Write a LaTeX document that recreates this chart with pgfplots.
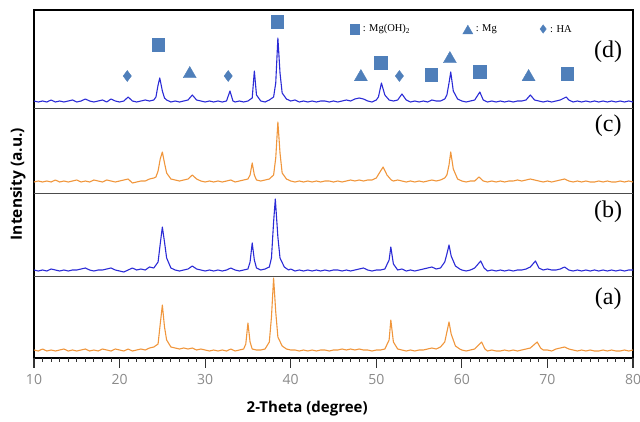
\documentclass[border=0pt]{standalone}
\usepackage{fontspec}
\setmainfont{Liberation Serif}
\newfontfamily\osans{Open Sans}
\usepackage{pgfplots}
\pgfplotsset{compat=1.18}
\definecolor{XBlue}{HTML}{2B2BD6}
\definecolor{XOrange}{HTML}{F0963C}
\definecolor{XMark}{HTML}{4F7FBA}
\definecolor{XTick}{HTML}{8A8A8A}
\tikzset{
  spec/.style={line width=1.1pt, line join=round},
  panel/.style={font=\fontsize{24}{24}\selectfont, anchor=center},
  keytext/.style={font=\fontsize{10.5}{10.5}\selectfont, anchor=west, inner sep=0pt}
}
\begin{document}
\begin{tikzpicture}
\begin{axis}[
  width=599pt, height=348pt, scale only axis,
  xmin=10, xmax=80, ymin=0, ymax=348,
  clip=false, unbounded coords=jump,
  xtick={10,20,...,80},
  ytick=\empty, xtick pos=left,
  major tick length=0pt,
  axis line style={line width=1.5pt},
  /pgf/number format/assume math mode=true,
  xticklabel style={font=\osans\fontsize{14}{14}\selectfont, text=XTick, yshift=-13pt},
  xlabel={2-Theta (degree)},
  xlabel style={font=\osans\bfseries\fontsize{15}{15}\selectfont, at={(axis description cs:0.456,-0.144)}, anchor=center},
  ylabel={Intensity (a.u.)},
  ylabel style={font=\osans\bfseries\fontsize{15.5}{15.5}\selectfont, at={(axis description cs:-0.027,0.5)}, anchor=center, rotate=0},
]
% tick marks below the frame
\addplot[black!80, line width=1.1pt] coordinates {
(10,0) (10,-10) (10,nan) (20,0) (20,-10) (20,nan) (30,0) (30,-10) (30,nan) (40,0) (40,-10) (40,nan)
(50,0) (50,-10) (50,nan) (60,0) (60,-10) (60,nan) (70,0) (70,-10) (70,nan) (80,0) (80,-10)
};
\addplot[black!80, line width=0.9pt] coordinates {
(11,0) (11,-4) (11,nan) (12,0) (12,-4) (12,nan) (13,0) (13,-4) (13,nan) (14,0) (14,-4) (14,nan) (15,0) (15,-4) (15,nan) (16,0) (16,-4) (16,nan) (17,0) (17,-4) (17,nan) (18,0) (18,-4) (18,nan) (19,0) (19,-4) (19,nan)
(21,0) (21,-4) (21,nan) (22,0) (22,-4) (22,nan) (23,0) (23,-4) (23,nan) (24,0) (24,-4) (24,nan) (25,0) (25,-4) (25,nan) (26,0) (26,-4) (26,nan) (27,0) (27,-4) (27,nan) (28,0) (28,-4) (28,nan) (29,0) (29,-4) (29,nan)
(31,0) (31,-4) (31,nan) (32,0) (32,-4) (32,nan) (33,0) (33,-4) (33,nan) (34,0) (34,-4) (34,nan) (35,0) (35,-4) (35,nan) (36,0) (36,-4) (36,nan) (37,0) (37,-4) (37,nan) (38,0) (38,-4) (38,nan) (39,0) (39,-4) (39,nan)
(41,0) (41,-4) (41,nan) (42,0) (42,-4) (42,nan) (43,0) (43,-4) (43,nan) (44,0) (44,-4) (44,nan) (45,0) (45,-4) (45,nan) (46,0) (46,-4) (46,nan) (47,0) (47,-4) (47,nan) (48,0) (48,-4) (48,nan) (49,0) (49,-4) (49,nan)
(51,0) (51,-4) (51,nan) (52,0) (52,-4) (52,nan) (53,0) (53,-4) (53,nan) (54,0) (54,-4) (54,nan) (55,0) (55,-4) (55,nan) (56,0) (56,-4) (56,nan) (57,0) (57,-4) (57,nan) (58,0) (58,-4) (58,nan) (59,0) (59,-4) (59,nan)
(61,0) (61,-4) (61,nan) (62,0) (62,-4) (62,nan) (63,0) (63,-4) (63,nan) (64,0) (64,-4) (64,nan) (65,0) (65,-4) (65,nan) (66,0) (66,-4) (66,nan) (67,0) (67,-4) (67,nan) (68,0) (68,-4) (68,nan) (69,0) (69,-4) (69,nan)
(71,0) (71,-4) (71,nan) (72,0) (72,-4) (72,nan) (73,0) (73,-4) (73,nan) (74,0) (74,-4) (74,nan) (75,0) (75,-4) (75,nan) (76,0) (76,-4) (76,nan) (77,0) (77,-4) (77,nan) (78,0) (78,-4) (78,nan) (79,0) (79,-4)
};

% panel separators
\addplot[black!70, line width=0.8pt] coordinates {(10,82) (80,82)};
\addplot[black!70, line width=0.8pt] coordinates {(10,165) (80,165)};
\addplot[black!70, line width=0.8pt] coordinates {(10,250) (80,250)};

% (a)
\addplot[spec, XOrange, y filter/.expression={y+6}] coordinates {
(10,2) (10.5,1) (11,3) (11.5,1) (12,2) (12.5,1) (13,2) (13.5,3) (14,1) (14.5,2) (15,1) (15.5,2) (16,3) (16.5,1) (17,2) (17.5,1) (18,3) (18.5,2) (19,1) (19.5,3) (20,2) (20.5,1) (21,3) (21.5,1) (22,2) (22.5,3) (23,2) (23.5,4) (24,5) (24.5,8) (24.75,28) (25,47) (25.25,25) (25.5,12) (26,5) (26.5,4) (27,3) (27.5,4) (28,3) (28.5,4) (29,2) (29.5,3) (30,2) (30.5,1) (31,2) (31.5,1) (32,2) (32.5,1) (33,3) (33.5,1) (34,2) (34.5,3) (34.75,8) (35,29) (35.25,10) (35.5,3) (36,2) (36.5,2) (37,3) (37.5,10) (37.75,35) (38,74) (38.25,40) (38.5,15) (39,6) (39.5,3) (40,2) (40.5,2) (41,1) (41.5,2) (42,1) (42.5,2) (43,1) (43.5,2) (44,2) (44.5,1) (45,2) (45.5,2) (46,3) (46.5,2) (47,3) (47.5,2) (48,3) (48.5,2) (49,2) (49.5,1) (50,2) (50.5,2) (51,3) (51.5,12) (51.7,32) (52,10) (52.5,3) (53,2) (53.5,1) (54,2) (54.5,1) (55,2) (55.5,2) (56,3) (56.5,4) (57,3) (57.5,5) (58,10) (58.25,20) (58.5,30) (58.75,18) (59.25,6) (59.75,3) (60,2) (60.5,1) (61,2) (61.5,3) (62.3,10) (62.7,3) (63,1) (63.5,2) (64,1) (64.5,1) (65,2) (65.5,1) (66,2) (66.5,1) (67,2) (67.5,3) (68,4) (68.8,10) (69.2,4) (69.5,2) (70,2) (70.5,1) (71,3) (71.5,4) (72,5) (72.5,3) (73,2) (73.5,1) (74,2) (74.5,1) (75,2) (75.5,1) (76,1) (76.5,2) (77,1) (77.5,2) (78,1) (78.5,1) (79,2) (79.5,1) (80,2)
};

% (b)
\addplot[spec, XBlue, y filter/.expression={y+86}] coordinates {
(10,2) (10.5,1) (11,2) (11.5,1) (12,3) (12.5,2) (13,1) (13.5,2) (14,1) (14.5,2) (15,2) (15.5,3) (16,4) (16.5,2) (17,1) (17.5,2) (18,2) (18.5,3) (19,4) (19.5,2) (20,1) (20.5,0) (21,2) (21.5,4) (22,2) (22.5,3) (23,2) (23.5,5) (24,4) (24.5,10) (24.75,28) (25,45) (25.25,30) (25.5,14) (26,4) (26.5,2) (27,1) (27.5,2) (28,3) (28.5,6) (29,3) (29.5,2) (30,1) (30.5,2) (31,1) (31.5,2) (32,1) (32.5,2) (33,4) (33.5,2) (34,1) (34.5,2) (35,3) (35.25,10) (35.5,29) (35.75,12) (36,4) (36.5,2) (37,3) (37.5,5) (37.75,14) (38,50) (38.2,73) (38.5,35) (38.75,14) (39.25,5) (39.75,2) (40,3) (40.5,1) (41,2) (41.5,1) (42,2) (42.5,1) (43,2) (43.5,1) (44,2) (44.5,1) (45,2) (45.5,2) (46,1) (46.5,2) (47,1) (47.5,2) (48,3) (48.5,4) (49,2) (49.5,1) (50,2) (50.5,2) (51,3) (51.5,12) (51.7,25) (52,8) (52.5,2) (53,3) (53.5,1) (54,2) (54.5,1) (55,2) (55.5,3) (56,4) (56.5,5) (57,3) (57.5,4) (58,10) (58.25,18) (58.5,27) (58.75,16) (59.25,6) (59.75,3) (60,2) (60.5,1) (61,2) (61.5,4) (62.2,11) (62.6,4) (63,1) (63.5,2) (64,1) (64.5,2) (65,1) (65.5,2) (66,1) (66.5,2) (67,2) (67.5,3) (68,5) (68.6,11) (69,4) (69.5,2) (70,3) (70.5,2) (71,2) (71.5,3) (72,5) (72.5,2) (73,1) (73.5,2) (74,1) (74.5,2) (75,1) (75.5,2) (76,1) (76.5,2) (77,1) (77.5,2) (78,1) (78.5,2) (79,1) (79.5,2) (80,2)
};

% (c)
\addplot[spec, XOrange, y filter/.expression={y+175}] coordinates {
(10,1) (10.5,2) (11,1) (11.5,2) (12,1) (12.5,3) (13,1) (13.5,2) (14,1) (14.5,2) (15,3) (15.5,1) (16,2) (16.5,1) (17,3) (17.5,2) (18,1) (18.5,3) (19,2) (19.5,1) (20,2) (20.5,3) (21,4) (21.5,0) (22,1) (22.5,2) (23,2) (23.5,4) (24,5) (24.25,6) (24.5,12) (24.75,24) (25,31) (25.25,20) (25.5,10) (26,4) (26.5,3) (27,2) (27.5,3) (28,4) (28.5,8) (29,4) (29.5,2) (30,1) (30.5,2) (31,1) (31.5,2) (32,1) (32.5,2) (33,3) (33.5,1) (34,2) (34.5,3) (35,4) (35.25,8) (35.5,20) (35.75,8) (36,3) (36.5,2) (37,3) (37.5,4) (38,8) (38.25,25) (38.5,61) (38.75,30) (39,10) (39.5,4) (40,2) (40.5,1) (41,2) (41.5,1) (42,2) (42.5,1) (43,2) (43.5,1) (44,2) (44.5,2) (45,1) (45.5,2) (46,1) (46.5,2) (47,3) (47.5,2) (48,3) (48.5,2) (49,3) (49.5,3) (50,5) (50.5,12) (50.8,16) (51.25,8) (51.75,3) (52,2) (52.5,3) (53,2) (53.5,1) (54,2) (54.5,1) (55,2) (55.5,1) (56,2) (56.5,3) (57,2) (57.5,3) (58,5) (58.25,8) (58.5,18) (58.7,31) (59,14) (59.5,4) (60,2) (60.5,1) (61,2) (61.5,2) (62,6) (62.5,2) (63,1) (63.5,2) (64,1) (64.5,2) (65,1) (65.5,2) (66,2) (66.5,3) (67,2) (67.5,3) (68,4) (68.5,3) (69,2) (69.5,1) (70,2) (70.5,1) (71,2) (71.5,3) (72,4) (72.5,2) (73,1) (73.5,2) (74,1) (74.5,2) (75,1) (75.5,1) (76,2) (76.5,1) (77,2) (77.5,1) (78,1) (78.5,2) (79,1) (79.5,2) (80,1)
};

% (d)
\addplot[spec, XBlue, y filter/.expression={y+255}] coordinates {
(10,2) (10.5,1) (11,2) (11.5,1) (12,3) (12.5,1) (13,2) (13.5,1) (14,2) (14.5,3) (15,1) (15.5,2) (16,4) (16.5,2) (17,1) (17.5,2) (18,3) (18.5,1) (19,4) (19.5,2) (20,1) (20.5,2) (21,6) (21.5,2) (22,1) (22.5,2) (23,3) (23.5,2) (24,3) (24.25,6) (24.5,18) (24.7,25) (25,12) (25.25,5) (25.5,3) (26,1) (26.5,2) (27,1) (27.5,2) (28,3) (28.5,8) (29,3) (29.5,2) (30,1) (30.5,2) (31,1) (31.5,2) (32,1) (32.5,2) (32.9,12) (33.25,2) (33.5,1) (34,2) (34.5,1) (35,2) (35.5,5) (35.75,32) (36,8) (36.5,2) (37,1) (37.5,3) (38,6) (38.25,20) (38.5,65) (38.75,30) (39,10) (39.5,4) (40,2) (40.5,3) (41,1) (41.5,2) (42,1) (42.5,2) (43,1) (43.5,2) (44,2) (44.5,1) (45,2) (45.5,1) (46,2) (46.5,3) (47,2) (47.5,4) (48,5) (48.5,4) (49,2) (49.5,1) (50,3) (50.25,6) (50.6,20) (51,8) (51.5,3) (52,2) (52.5,3) (53,9) (53.5,3) (54,1) (54.5,2) (55,1) (55.5,2) (56,1) (56.5,3) (57,2) (57.5,2) (58,4) (58.25,8) (58.5,20) (58.7,31) (59,12) (59.5,4) (60,2) (60.5,1) (61,2) (61.5,3) (62.1,11) (62.5,3) (63,1) (63.5,2) (64,1) (64.5,2) (65,1) (65.5,2) (66,1) (66.5,2) (67,2) (67.5,3) (68,8) (68.5,3) (69,2) (69.5,1) (70,2) (70.5,1) (71,2) (71.5,3) (72.2,6) (72.5,3) (73,1) (73.5,2) (74,1) (74.5,2) (75,1) (75.5,2) (76,1) (76.5,2) (77,1) (77.5,2) (78,1) (78.5,2) (79,1) (79.5,2) (80,1)
};

% phase markers above (d)
\addplot[only marks, mark=square*, mark size=6.3pt, XMark] coordinates {
(24.5,313) (38.4,336) (50.5,295) (56.4,283) (62.1,286) (72.3,284)
};
\addplot[only marks, mark=triangle*, mark size=7.5pt, XMark] coordinates {
(28.2,284) (48.2,281) (58.6,299) (67.8,281)
};
\addplot[only marks, mark=diamond*, mark size=5.5pt, XMark] coordinates {
(20.9,282) (32.7,282) (52.7,282)
};
% key
\addplot[only marks, mark=square*, mark size=4.8pt, XMark] coordinates {(47.5,329)};
\addplot[only marks, mark=triangle*, mark size=5.8pt, XMark] coordinates {(60.7,327)};
\addplot[only marks, mark=diamond*, mark size=4.2pt, XMark] coordinates {(69.5,329)};
\node[keytext] at (axis cs:48.4,329) {: Mg(OH)\textsubscript{2}};
\node[keytext] at (axis cs:61.6,329) {: Mg};
\node[keytext] at (axis cs:70.3,329) {: HA};

% panel labels
\node[panel] at (axis cs:77.1,306) {(d)};
\node[panel] at (axis cs:77.1,232) {(c)};
\node[panel] at (axis cs:77.1,146) {(b)};
\node[panel] at (axis cs:77.1,59) {(a)};
\end{axis}
\pgfresetboundingbox
\useasboundingbox (-34pt,-63pt) rectangle (606pt,358pt);
\end{tikzpicture}
\end{document}
